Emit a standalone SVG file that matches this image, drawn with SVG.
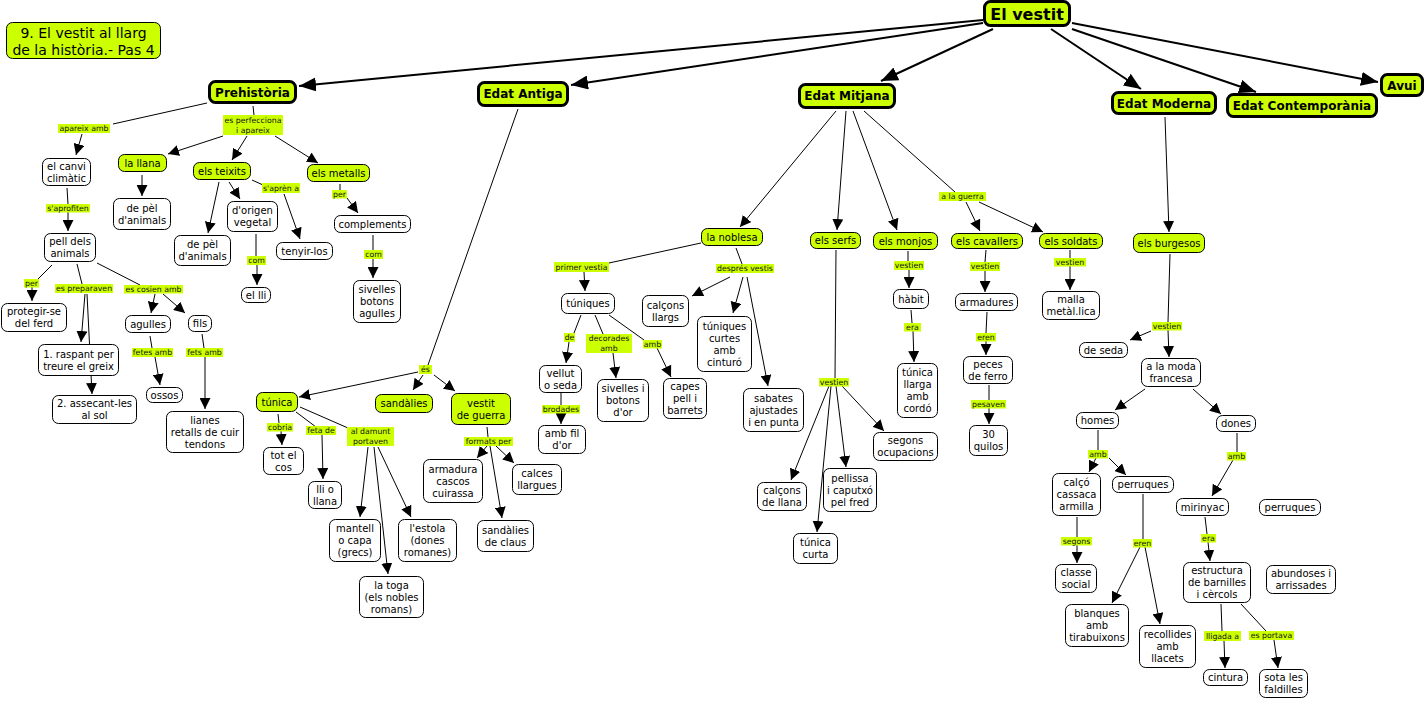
<svg xmlns="http://www.w3.org/2000/svg" width="1425" height="701" viewBox="0 0 1425 701">
<style>
text{font-family:"DejaVu Sans",Verdana,sans-serif;text-anchor:middle;fill:#000}
.n text{font-size:10px}
.lb text{font-size:7.8px;fill:#111}
.y rect{fill:#ccff00;stroke:#000;stroke-width:1}
.w rect{fill:#fff;stroke:#000;stroke-width:1}
.lb rect{fill:#ccff00;stroke:none}
.m rect{fill:#ccff00;stroke:#000;stroke-width:3}
.m text{font-size:12px;font-weight:bold}
#conn line{stroke:#000;stroke-width:1;fill:none}
#conn line.a{marker-end:url(#ar)}
#conn line.M{stroke-width:2;marker-end:url(#AR)}
</style>
<defs>
<marker id="ar" markerUnits="userSpaceOnUse" markerWidth="12" markerHeight="11" refX="11" refY="5.5" orient="auto"><path d="M0,0 L11,5.5 L0,11 z" fill="#000"/></marker>
<marker id="AR" markerUnits="userSpaceOnUse" markerWidth="18" markerHeight="14" refX="17" refY="7" orient="auto"><path d="M0,0 L17,7 L0,14 z" fill="#000"/></marker>
</defs>
<rect width="1425" height="701" fill="#fff"/>
<g id="conn">
<line class="M" x1="983" y1="20" x2="299" y2="86"/>
<line class="M" x1="983" y1="23" x2="571" y2="85"/>
<line class="M" x1="993" y1="29" x2="881" y2="81"/>
<line class="M" x1="1051" y1="29" x2="1141" y2="89"/>
<line class="M" x1="1072" y1="29" x2="1256" y2="92"/>
<line class="M" x1="1072" y1="23" x2="1378" y2="82"/>
<line x1="207" y1="103" x2="113" y2="124"/>
<line class="a" x1="82" y1="134" x2="76" y2="155"/>
<line x1="67" y1="188" x2="68" y2="204"/>
<line class="a" x1="68" y1="212" x2="68" y2="231"/>
<line x1="52" y1="265" x2="38" y2="279"/>
<line class="a" x1="32" y1="287" x2="32" y2="301"/>
<line x1="77" y1="264" x2="82" y2="284"/>
<line class="a" x1="85" y1="294" x2="81" y2="342"/>
<line class="a" x1="87" y1="294" x2="92" y2="394"/>
<line x1="97" y1="263" x2="140" y2="285"/>
<line class="a" x1="155" y1="294" x2="151" y2="313"/>
<line class="a" x1="163" y1="294" x2="185" y2="313"/>
<line x1="150" y1="336" x2="152" y2="348"/>
<line class="a" x1="155" y1="357" x2="160" y2="385"/>
<line x1="202" y1="334" x2="204" y2="348"/>
<line class="a" x1="205" y1="357" x2="205" y2="409"/>
<line x1="253" y1="106" x2="254" y2="115"/>
<line class="a" x1="223" y1="136" x2="168" y2="154"/>
<line class="a" x1="247" y1="136" x2="232" y2="160"/>
<line class="a" x1="275" y1="136" x2="318" y2="163"/>
<line class="a" x1="142" y1="175" x2="142" y2="196"/>
<line class="a" x1="219" y1="182" x2="208" y2="233"/>
<line class="a" x1="229" y1="182" x2="240" y2="199"/>
<line x1="252" y1="180" x2="263" y2="185"/>
<line class="a" x1="284" y1="194" x2="300" y2="239"/>
<line x1="256" y1="234" x2="256" y2="256"/>
<line class="a" x1="257" y1="265" x2="257" y2="285"/>
<line x1="340" y1="184" x2="340" y2="190"/>
<line class="a" x1="347" y1="198" x2="358" y2="213"/>
<line x1="373" y1="235" x2="373" y2="250"/>
<line class="a" x1="373" y1="259" x2="373" y2="278"/>
<line x1="518" y1="109" x2="428" y2="365"/>
<line class="a" x1="418" y1="372" x2="299" y2="397"/>
<line class="a" x1="423" y1="375" x2="413" y2="390"/>
<line class="a" x1="434" y1="375" x2="455" y2="391"/>
<line x1="278" y1="414" x2="279" y2="423"/>
<line class="a" x1="281" y1="431" x2="282" y2="445"/>
<line x1="296" y1="412" x2="316" y2="427"/>
<line class="a" x1="322" y1="435" x2="323" y2="479"/>
<line x1="300" y1="407" x2="348" y2="428"/>
<line class="a" x1="368" y1="447" x2="360" y2="517"/>
<line class="a" x1="374" y1="447" x2="388" y2="574"/>
<line class="a" x1="378" y1="447" x2="411" y2="517"/>
<line x1="487" y1="427" x2="488" y2="437"/>
<line class="a" x1="487" y1="446" x2="477" y2="458"/>
<line class="a" x1="496" y1="446" x2="514" y2="463"/>
<line class="a" x1="490" y1="446" x2="502" y2="518"/>
<line class="a" x1="836" y1="111" x2="740" y2="227"/>
<line class="a" x1="846" y1="111" x2="837" y2="230"/>
<line class="a" x1="853" y1="111" x2="897" y2="230"/>
<line x1="864" y1="111" x2="955" y2="192"/>
<line class="a" x1="966" y1="202" x2="980" y2="231"/>
<line class="a" x1="979" y1="202" x2="1043" y2="232"/>
<line x1="701" y1="243" x2="609" y2="263"/>
<line class="a" x1="584" y1="272" x2="585" y2="291"/>
<line x1="736" y1="248" x2="742" y2="264"/>
<line class="a" x1="730" y1="277" x2="692" y2="296"/>
<line class="a" x1="743" y1="277" x2="733" y2="313"/>
<line class="a" x1="747" y1="277" x2="768" y2="386"/>
<line x1="581" y1="315" x2="574" y2="333"/>
<line class="a" x1="569" y1="342" x2="566" y2="363"/>
<line x1="561" y1="393" x2="561" y2="405"/>
<line class="a" x1="561" y1="413" x2="561" y2="424"/>
<line x1="595" y1="315" x2="603" y2="334"/>
<line class="a" x1="613" y1="353" x2="616" y2="378"/>
<line x1="609" y1="315" x2="644" y2="340"/>
<line class="a" x1="657" y1="348" x2="671" y2="377"/>
<line x1="836" y1="250" x2="835" y2="378"/>
<line class="a" x1="829" y1="386" x2="791" y2="480"/>
<line class="a" x1="831" y1="386" x2="817" y2="532"/>
<line class="a" x1="836" y1="386" x2="846" y2="467"/>
<line class="a" x1="842" y1="386" x2="884" y2="431"/>
<line x1="908" y1="251" x2="908" y2="261"/>
<line class="a" x1="909" y1="270" x2="909" y2="288"/>
<line x1="911" y1="310" x2="912" y2="323"/>
<line class="a" x1="913" y1="331" x2="914" y2="362"/>
<line x1="986" y1="250" x2="985" y2="262"/>
<line class="a" x1="985" y1="271" x2="985" y2="292"/>
<line x1="987" y1="312" x2="986" y2="333"/>
<line class="a" x1="986" y1="341" x2="986" y2="355"/>
<line x1="989" y1="385" x2="989" y2="400"/>
<line class="a" x1="989" y1="408" x2="989" y2="424"/>
<line x1="1070" y1="250" x2="1070" y2="258"/>
<line class="a" x1="1070" y1="266" x2="1070" y2="290"/>
<line class="a" x1="1165" y1="117" x2="1169" y2="232"/>
<line x1="1170" y1="254" x2="1168" y2="322"/>
<line class="a" x1="1168" y1="330" x2="1169" y2="357"/>
<line class="a" x1="1151" y1="331" x2="1130" y2="340"/>
<line class="a" x1="1145" y1="389" x2="1115" y2="410"/>
<line class="a" x1="1193" y1="389" x2="1221" y2="414"/>
<line x1="1098" y1="430" x2="1098" y2="450"/>
<line class="a" x1="1096" y1="458" x2="1089" y2="472"/>
<line class="a" x1="1109" y1="458" x2="1126" y2="475"/>
<line x1="1077" y1="517" x2="1077" y2="537"/>
<line class="a" x1="1077" y1="545" x2="1077" y2="563"/>
<line x1="1143" y1="494" x2="1143" y2="539"/>
<line class="a" x1="1140" y1="547" x2="1112" y2="603"/>
<line class="a" x1="1145" y1="547" x2="1160" y2="624"/>
<line x1="1237" y1="433" x2="1237" y2="452"/>
<line class="a" x1="1233" y1="460" x2="1212" y2="496"/>
<line x1="1205" y1="517" x2="1207" y2="534"/>
<line class="a" x1="1208" y1="542" x2="1210" y2="561"/>
<line x1="1221" y1="604" x2="1222" y2="631"/>
<line class="a" x1="1224" y1="641" x2="1225" y2="668"/>
<line x1="1241" y1="604" x2="1266" y2="631"/>
<line class="a" x1="1274" y1="640" x2="1278" y2="668"/>
</g>
<g id="labels">
<g class="lb" id="l-apareix"><rect x="58" y="124" width="52" height="9"/><text x="84" y="131.3">apareix amb</text></g>
<g class="lb" id="l-aprofiten"><rect x="46" y="204" width="44" height="8.5"/><text x="68" y="210.8">s'aprofiten</text></g>
<g class="lb" id="l-per1"><rect x="24" y="279" width="15" height="8.5"/><text x="31.5" y="285.8">per</text></g>
<g class="lb" id="l-preparaven"><rect x="55" y="284" width="58" height="9"/><text x="84" y="291.3">es preparaven</text></g>
<g class="lb" id="l-cosien"><rect x="124" y="285" width="59" height="8.5"/><text x="153.5" y="291.8">es cosien amb</text></g>
<g class="lb" id="l-fetes"><rect x="132" y="348" width="41" height="9"/><text x="152.5" y="355.3">fetes amb</text></g>
<g class="lb" id="l-fets"><rect x="186" y="348" width="37" height="9"/><text x="204.5" y="355.3">fets amb</text></g>
<g class="lb" id="l-perfecciona"><rect x="223" y="115" width="60" height="20"/><text x="253" y="123">es perfecciona</text><text x="253" y="132.6">i apareix</text></g>
<g class="lb" id="l-apren"><rect x="262" y="183" width="38" height="10"/><text x="281" y="190.8">s'aprèn a</text></g>
<g class="lb" id="l-com1"><rect x="247" y="256" width="19" height="9"/><text x="256.5" y="263.3">com</text></g>
<g class="lb" id="l-per2"><rect x="332" y="190" width="15" height="8.5"/><text x="339.5" y="196.8">per</text></g>
<g class="lb" id="l-com2"><rect x="364" y="250" width="19" height="9"/><text x="373.5" y="257.3">com</text></g>
<g class="lb" id="l-es"><rect x="419" y="365" width="13" height="9"/><text x="425.5" y="372.3">és</text></g>
<g class="lb" id="l-cobria"><rect x="267" y="423" width="26" height="8.5"/><text x="280" y="429.8">cobria</text></g>
<g class="lb" id="l-feta"><rect x="306" y="426" width="30" height="9"/><text x="321" y="433.3">feta de</text></g>
<g class="lb" id="l-damunt"><rect x="347" y="427" width="47" height="19"/><text x="370.5" y="434">al damunt</text><text x="370.5" y="443.6">portaven</text></g>
<g class="lb" id="l-formats"><rect x="464" y="437" width="49" height="9"/><text x="488.5" y="444.3">formats per</text></g>
<g class="lb" id="l-guerra"><rect x="939" y="192" width="47" height="9"/><text x="962.5" y="199.3">a la guerra</text></g>
<g class="lb" id="l-primer"><rect x="554" y="262" width="55" height="10"/><text x="581.5" y="269.8">primer vestia</text></g>
<g class="lb" id="l-despres"><rect x="716" y="264" width="58" height="9"/><text x="745" y="271.3">després vestis</text></g>
<g class="lb" id="l-de"><rect x="564" y="333" width="11" height="9"/><text x="569.5" y="340.3">de</text></g>
<g class="lb" id="l-brodades"><rect x="542" y="405" width="38" height="8.5"/><text x="561" y="411.8">brodades</text></g>
<g class="lb" id="l-decorades"><rect x="586" y="334" width="46" height="19"/><text x="609" y="341">decorades</text><text x="609" y="350.6">amb</text></g>
<g class="lb" id="l-amb1"><rect x="643" y="340" width="19" height="8.5"/><text x="652.5" y="346.8">amb</text></g>
<g class="lb" id="l-vestien1"><rect x="819" y="378" width="30" height="8.5"/><text x="834" y="384.8">vestien</text></g>
<g class="lb" id="l-vestien2"><rect x="894" y="261" width="30" height="9"/><text x="909" y="268.3">vestien</text></g>
<g class="lb" id="l-era1"><rect x="904" y="323" width="17" height="8.5"/><text x="912.5" y="329.8">era</text></g>
<g class="lb" id="l-vestien3"><rect x="970" y="262" width="30" height="9"/><text x="985" y="269.3">vestien</text></g>
<g class="lb" id="l-eren1"><rect x="976" y="333" width="20" height="8.5"/><text x="986" y="339.8">eren</text></g>
<g class="lb" id="l-pesaven"><rect x="971" y="400" width="35" height="8.5"/><text x="988.5" y="406.8">pesaven</text></g>
<g class="lb" id="l-vestien4"><rect x="1054" y="258" width="32" height="8.5"/><text x="1070" y="264.8">vestien</text></g>
<g class="lb" id="l-vestien5"><rect x="1152" y="322" width="30" height="8.5"/><text x="1167" y="328.8">vestien</text></g>
<g class="lb" id="l-amb2"><rect x="1088" y="450" width="20" height="8.5"/><text x="1098" y="456.8">amb</text></g>
<g class="lb" id="l-segons"><rect x="1061" y="537" width="31" height="8.5"/><text x="1076.5" y="543.8">segons</text></g>
<g class="lb" id="l-eren2"><rect x="1133" y="539" width="19" height="8.5"/><text x="1142.5" y="545.8">eren</text></g>
<g class="lb" id="l-amb3"><rect x="1227" y="452" width="19" height="8.5"/><text x="1236.5" y="458.8">amb</text></g>
<g class="lb" id="l-era2"><rect x="1201" y="534" width="15" height="8.5"/><text x="1208.5" y="540.8">era</text></g>
<g class="lb" id="l-lligada"><rect x="1204" y="631" width="37" height="10"/><text x="1222.5" y="638.8">lligada a</text></g>
<g class="lb" id="l-portava"><rect x="1249" y="631" width="45" height="9"/><text x="1271.5" y="638.3">es portava</text></g>
</g>
<g id="nodes">
<g id="n-title"><rect x="6.5" y="22.5" width="154" height="36" rx="6" fill="#ccff00" stroke="#000"/><text x="83.5" y="37.5" style="font-size:14px">9. El vestit al llarg</text><text x="83.5" y="54.5" style="font-size:14px">de la història.- Pas 4</text></g>
<g id="n-vestit" class="m"><rect x="984.5" y="1.5" width="85" height="24" rx="6"/><text x="1027" y="20" style="font-size:16px">El vestit</text></g>
<g id="n-prehistoria" class="m"><rect x="209.5" y="81.5" width="86" height="21" rx="6"/><text x="252.5" y="96.5">Prehistòria</text></g>
<g id="n-antiga" class="m"><rect x="478.5" y="82.5" width="89" height="23" rx="6"/><text x="523" y="98">Edat Antiga</text></g>
<g id="n-mitjana" class="m"><rect x="799.5" y="84.5" width="95" height="23" rx="6"/><text x="847" y="100">Edat Mitjana</text></g>
<g id="n-moderna" class="m"><rect x="1112.5" y="92.5" width="103" height="21" rx="6"/><text x="1164" y="107.5">Edat Moderna</text></g>
<g id="n-contemporania" class="m"><rect x="1227.5" y="94.5" width="149" height="22" rx="6"/><text x="1302" y="110">Edat Contemporània</text></g>
<g id="n-avui" class="m"><rect x="1381.5" y="74.5" width="41" height="21" rx="6"/><text x="1402" y="89.5">Avui</text></g>

<g id="n-canvi" class="n w"><rect x="42.5" y="158.5" width="48" height="27" rx="6"/><text x="66.5" y="169.5">el canvi</text><text x="66.5" y="181.5">climàtic</text></g>
<g id="n-pell" class="n w"><rect x="44.5" y="233.5" width="51" height="28" rx="6"/><text x="70" y="245">pell dels</text><text x="70" y="257">animals</text></g>
<g id="n-protegir" class="n w"><rect x="1.5" y="303.5" width="65" height="28" rx="6"/><text x="34" y="315">protegir-se</text><text x="34" y="327">del ferd</text></g>
<g id="n-raspant" class="n w"><rect x="38.5" y="344.5" width="80" height="31" rx="6"/><text x="78.5" y="357.5">1. raspant per</text><text x="78.5" y="369.5">treure el greix</text></g>
<g id="n-assecant" class="n w"><rect x="52.5" y="395.5" width="84" height="28" rx="6"/><text x="94.5" y="407">2. assecant-les</text><text x="94.5" y="419">al sol</text></g>
<g id="n-agulles" class="n w"><rect x="125.5" y="315.5" width="45" height="17" rx="6"/><text x="148" y="327.5">agulles</text></g>
<g id="n-fils" class="n w"><rect x="188.5" y="315.5" width="23" height="16" rx="6"/><text x="200" y="327">fils</text></g>
<g id="n-ossos" class="n w"><rect x="146.5" y="387.5" width="36" height="15" rx="6"/><text x="164.5" y="398.5">ossos</text></g>
<g id="n-lianes" class="n w"><rect x="166.5" y="411.5" width="77" height="41" rx="6"/><text x="205" y="423.5">lianes</text><text x="205" y="435.5">retalls de cuir</text><text x="205" y="447.5">tendons</text></g>
<g id="n-llana" class="n y"><rect x="118.5" y="154.5" width="48" height="17" rx="6"/><text x="142.5" y="166.5">la llana</text></g>
<g id="n-pel1" class="n w"><rect x="113.5" y="198.5" width="57" height="31" rx="6"/><text x="142" y="211.5">de pèl</text><text x="142" y="223.5">d'animals</text></g>
<g id="n-teixits" class="n y"><rect x="193.5" y="162.5" width="57" height="17" rx="6"/><text x="222" y="174.5">els teixits</text></g>
<g id="n-pel2" class="n w"><rect x="174.5" y="235.5" width="56" height="30" rx="6"/><text x="202.5" y="248">de pèl</text><text x="202.5" y="260">d'animals</text></g>
<g id="n-origen" class="n w"><rect x="227.5" y="201.5" width="50" height="30" rx="6"/><text x="252.5" y="214">d'origen</text><text x="252.5" y="226">vegetal</text></g>
<g id="n-tenyir" class="n w"><rect x="276.5" y="242.5" width="56" height="17" rx="6"/><text x="304.5" y="254.5">tenyir-los</text></g>
<g id="n-lli" class="n w"><rect x="241.5" y="287.5" width="29" height="15" rx="6"/><text x="256" y="298.5">el lli</text></g>
<g id="n-metalls" class="n y"><rect x="307.5" y="164.5" width="62" height="17" rx="6"/><text x="338.5" y="176.5">els metalls</text></g>
<g id="n-complements" class="n w"><rect x="334.5" y="215.5" width="76" height="17" rx="6"/><text x="372.5" y="227.5">complements</text></g>
<g id="n-sivelles" class="n w"><rect x="353.5" y="280.5" width="47" height="42" rx="6"/><text x="377" y="293">sivelles</text><text x="377" y="305">botons</text><text x="377" y="317">agulles</text></g>

<g id="n-tunica" class="n y"><rect x="256.5" y="392.5" width="41" height="19" rx="6"/><text x="277" y="405.5">túnica</text></g>
<g id="n-sandalies" class="n y"><rect x="375.5" y="394.5" width="57" height="18" rx="6"/><text x="404" y="407">sandàlies</text></g>
<g id="n-guerra" class="n y"><rect x="451.5" y="393.5" width="59" height="31" rx="6"/><text x="481" y="406.5">vestit</text><text x="481" y="418.5">de guerra</text></g>
<g id="n-totcos" class="n w"><rect x="263.5" y="447.5" width="40" height="27" rx="6"/><text x="283.5" y="458.5">tot el</text><text x="283.5" y="470.5">cos</text></g>
<g id="n-llillana" class="n w"><rect x="308.5" y="481.5" width="33" height="27" rx="6"/><text x="325" y="492.5">lli o</text><text x="325" y="504.5">llana</text></g>
<g id="n-mantell" class="n w"><rect x="329.5" y="519.5" width="51" height="42" rx="6"/><text x="355" y="532">mantell</text><text x="355" y="544">o capa</text><text x="355" y="556">(grecs)</text></g>
<g id="n-estola" class="n w"><rect x="398.5" y="519.5" width="58" height="42" rx="6"/><text x="427.5" y="532">l'estola</text><text x="427.5" y="544">(dones</text><text x="427.5" y="556">romanes)</text></g>
<g id="n-toga" class="n w"><rect x="359.5" y="576.5" width="64" height="41" rx="6"/><text x="391.5" y="588.5">la toga</text><text x="391.5" y="600.5">(els nobles</text><text x="391.5" y="612.5">romans)</text></g>
<g id="n-armadura" class="n w"><rect x="423.5" y="459.5" width="59" height="43" rx="6"/><text x="453" y="472.5">armadura</text><text x="453" y="484.5">cascos</text><text x="453" y="496.5">cuirassa</text></g>
<g id="n-calces" class="n w"><rect x="512.5" y="464.5" width="49" height="30" rx="6"/><text x="537" y="477">calces</text><text x="537" y="489">llargues</text></g>
<g id="n-claus" class="n w"><rect x="477.5" y="520.5" width="56" height="31" rx="6"/><text x="505.5" y="533.5">sandàlies</text><text x="505.5" y="545.5">de claus</text></g>

<g id="n-noblesa" class="n y"><rect x="701.5" y="228.5" width="61" height="17" rx="6"/><text x="732" y="240.5">la noblesa</text></g>
<g id="n-serfs" class="n y"><rect x="810.5" y="232.5" width="50" height="16" rx="6"/><text x="835.5" y="244">els serfs</text></g>
<g id="n-monjos" class="n y"><rect x="873.5" y="232.5" width="64" height="17" rx="6"/><text x="905.5" y="244.5">els monjos</text></g>
<g id="n-cavallers" class="n y"><rect x="951.5" y="233.5" width="71" height="15" rx="6"/><text x="987" y="244.5">els cavallers</text></g>
<g id="n-soldats" class="n y"><rect x="1039.5" y="233.5" width="63" height="15" rx="6"/><text x="1071" y="244.5">els soldats</text></g>
<g id="n-tuniques" class="n w"><rect x="561.5" y="293.5" width="53" height="20" rx="6"/><text x="588" y="307">túniques</text></g>
<g id="n-calcons" class="n w"><rect x="642.5" y="295.5" width="46" height="31" rx="6"/><text x="665.5" y="308.5">calçons</text><text x="665.5" y="320.5">llargs</text></g>
<g id="n-tcurtes" class="n w"><rect x="697.5" y="316.5" width="54" height="55" rx="6"/><text x="724.5" y="329.5">túniques</text><text x="724.5" y="341.5">curtes</text><text x="724.5" y="353.5">amb</text><text x="724.5" y="365.5">cinturó</text></g>
<g id="n-sabates" class="n w"><rect x="743.5" y="388.5" width="60" height="43" rx="6"/><text x="773.5" y="401.5">sabates</text><text x="773.5" y="413.5">ajustades</text><text x="773.5" y="425.5">i en punta</text></g>
<g id="n-vellut" class="n w"><rect x="539.5" y="365.5" width="42" height="27" rx="6"/><text x="560.5" y="376.5">vellut</text><text x="560.5" y="388.5">o seda</text></g>
<g id="n-filor" class="n w"><rect x="538.5" y="425.5" width="47" height="28" rx="6"/><text x="562" y="437">amb fil</text><text x="562" y="449">d'or</text></g>
<g id="n-sivbot" class="n w"><rect x="597.5" y="379.5" width="51" height="42" rx="6"/><text x="623" y="392">sivelles i</text><text x="623" y="404">botons</text><text x="623" y="416">d'or</text></g>
<g id="n-capes" class="n w"><rect x="663.5" y="378.5" width="43" height="40" rx="6"/><text x="685" y="390">capes</text><text x="685" y="402">pell i</text><text x="685" y="414">barrets</text></g>
<g id="n-callana" class="n w"><rect x="757.5" y="482.5" width="49" height="28" rx="6"/><text x="782" y="494">calçons</text><text x="782" y="506">de llana</text></g>
<g id="n-tcurta" class="n w"><rect x="793.5" y="533.5" width="44" height="30" rx="6"/><text x="815.5" y="546">túnica</text><text x="815.5" y="558">curta</text></g>
<g id="n-pellissa" class="n w"><rect x="823.5" y="468.5" width="53" height="43" rx="6"/><text x="850" y="481.5">pellissa</text><text x="850" y="493.5">i caputxó</text><text x="850" y="505.5">pel fred</text></g>
<g id="n-ocupacions" class="n w"><rect x="873.5" y="432.5" width="64" height="28" rx="6"/><text x="905.5" y="444">segons</text><text x="905.5" y="456">ocupacions</text></g>
<g id="n-habit" class="n w"><rect x="893.5" y="289.5" width="35" height="19" rx="6"/><text x="911" y="302.5">hàbit</text></g>
<g id="n-tllarga" class="n w"><rect x="897.5" y="363.5" width="40" height="54" rx="6"/><text x="917.5" y="376">túnica</text><text x="917.5" y="388">llarga</text><text x="917.5" y="400">amb</text><text x="917.5" y="412">cordó</text></g>
<g id="n-armadures" class="n w"><rect x="955.5" y="293.5" width="62" height="17" rx="6"/><text x="986.5" y="305.5">armadures</text></g>
<g id="n-peces" class="n w"><rect x="963.5" y="356.5" width="49" height="27" rx="6"/><text x="988" y="367.5">peces</text><text x="988" y="379.5">de ferro</text></g>
<g id="n-quilos" class="n w"><rect x="969.5" y="425.5" width="38" height="30" rx="6"/><text x="988.5" y="438">30</text><text x="988.5" y="450">quilos</text></g>
<g id="n-malla" class="n w"><rect x="1042.5" y="291.5" width="57" height="28" rx="6"/><text x="1071" y="303">malla</text><text x="1071" y="315">metàl.lica</text></g>

<g id="n-burgesos" class="n y"><rect x="1133.5" y="233.5" width="71" height="19" rx="6"/><text x="1169" y="246.5">els burgesos</text></g>
<g id="n-seda" class="n w"><rect x="1079.5" y="342.5" width="48" height="15" rx="6"/><text x="1103.5" y="353.5">de seda</text></g>
<g id="n-moda" class="n w"><rect x="1141.5" y="358.5" width="59" height="28" rx="6"/><text x="1171" y="370">a la moda</text><text x="1171" y="382">francesa</text></g>
<g id="n-homes" class="n w"><rect x="1076.5" y="412.5" width="42" height="16" rx="6"/><text x="1097.5" y="424">homes</text></g>
<g id="n-dones" class="n w"><rect x="1216.5" y="415.5" width="39" height="16" rx="6"/><text x="1236" y="427">dones</text></g>
<g id="n-calco" class="n w"><rect x="1052.5" y="473.5" width="48" height="42" rx="6"/><text x="1076.5" y="486">calçó</text><text x="1076.5" y="498">cassaca</text><text x="1076.5" y="510">armilla</text></g>
<g id="n-perruques1" class="n w"><rect x="1112.5" y="476.5" width="61" height="16" rx="6"/><text x="1143" y="488">perruques</text></g>
<g id="n-classe" class="n w"><rect x="1055.5" y="564.5" width="41" height="28" rx="6"/><text x="1076" y="576">classe</text><text x="1076" y="588">social</text></g>
<g id="n-blanques" class="n w"><rect x="1065.5" y="604.5" width="63" height="42" rx="6"/><text x="1097" y="617">blanques</text><text x="1097" y="629">amb</text><text x="1097" y="641">tirabuixons</text></g>
<g id="n-recollides" class="n w"><rect x="1139.5" y="625.5" width="56" height="42" rx="6"/><text x="1167.5" y="638">recollides</text><text x="1167.5" y="650">amb</text><text x="1167.5" y="662">llacets</text></g>
<g id="n-mirinyac" class="n w"><rect x="1176.5" y="498.5" width="52" height="17" rx="6"/><text x="1202.5" y="510.5">mirinyac</text></g>
<g id="n-perruques2" class="n w"><rect x="1259.5" y="499.5" width="61" height="16" rx="6"/><text x="1290" y="511">perruques</text></g>
<g id="n-estructura" class="n w"><rect x="1183.5" y="562.5" width="67" height="40" rx="6"/><text x="1217" y="574">estructura</text><text x="1217" y="586">de barnilles</text><text x="1217" y="598">i cèrcols</text></g>
<g id="n-abundoses" class="n w"><rect x="1266.5" y="565.5" width="69" height="28" rx="6"/><text x="1301" y="577">abundoses i</text><text x="1301" y="589">arrissades</text></g>
<g id="n-cintura" class="n w"><rect x="1203.5" y="669.5" width="44" height="16" rx="6"/><text x="1225.5" y="681">cintura</text></g>
<g id="n-sota" class="n w"><rect x="1259.5" y="669.5" width="48" height="28" rx="6"/><text x="1283.5" y="681">sota les</text><text x="1283.5" y="693">faldilles</text></g>
</g>
</svg>
